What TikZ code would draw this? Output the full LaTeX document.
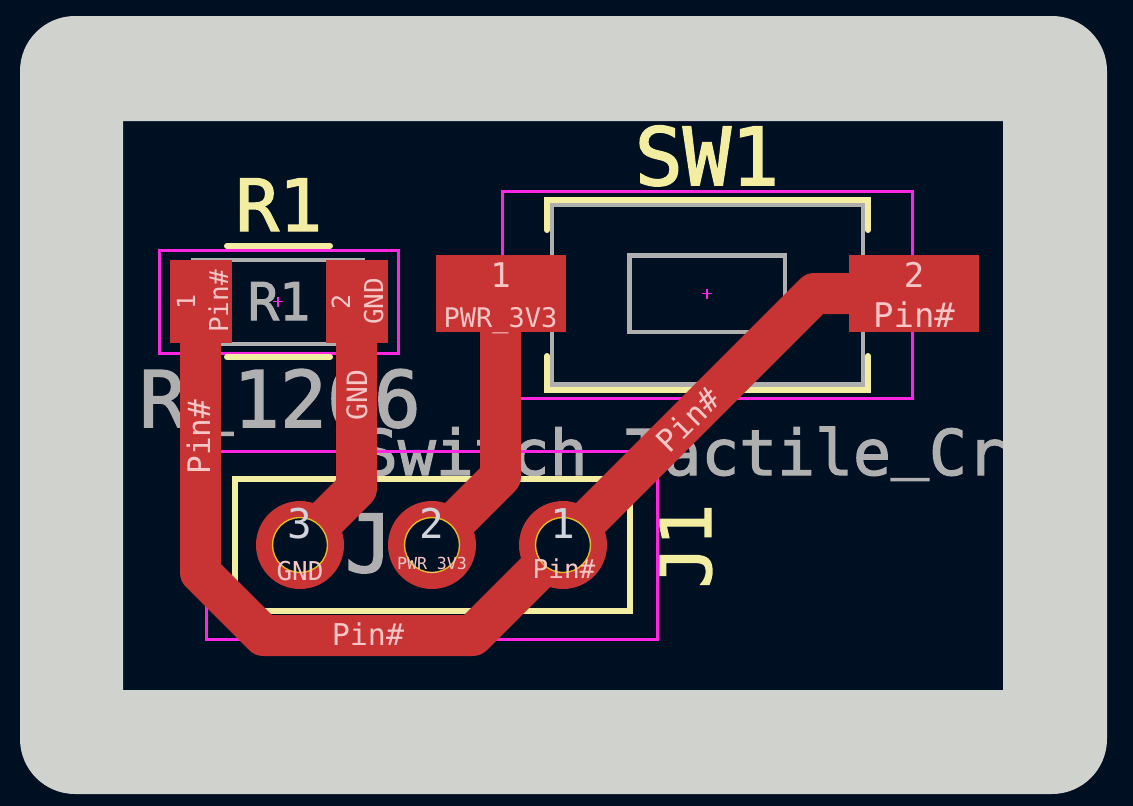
\documentclass[tikz,border=0pt]{standalone}
\usepackage{fontspec}
\newfontfamily\pcbfont{DejaVu Sans Mono}
\newfontfamily\pcbheavy[FakeBold=2]{DejaVu Sans Mono}
\newcommand{\lowbar}[1]{\raisebox{#1}{\_}}
\definecolor{pcbback}{HTML}{001023}
\definecolor{boardedge}{HTML}{D0D2CD}
\definecolor{courtyard}{HTML}{FF26E2}
\definecolor{silk}{HTML}{F2EDA1}
\definecolor{fabgray}{HTML}{AFAFAF}
\definecolor{copper}{HTML}{C83434}
\definecolor{padtext}{HTML}{F6C6C6}
\definecolor{numtext}{HTML}{CFD3DA}
\definecolor{holering}{HTML}{E8B820}
\tikzset{
  crtline/.style={draw=courtyard, line width=3pt},
  silkline/.style={draw=silk, line width=6pt, line cap=round, line join=miter},
  fabline/.style={draw=fabgray, line width=4.5pt},
  track/.style={draw=copper, line width=41pt, line cap=round, line join=round},
  smdpad/.style={fill=copper, inner sep=0pt, outer sep=0pt, minimum width=#1},
  smdpad/.default=62pt,
  thtpad/.style={circle, fill=copper, inner sep=0pt, outer sep=0pt, minimum size=88pt},
  ththole/.style={circle, fill=pcbback, draw=holering, line width=1.4pt, inner sep=0pt, minimum size=55pt},
  crossmark/.style={draw=courtyard, line width=1.2pt},
  txt/.style={inner sep=0pt, outer sep=0pt, anchor=base},
  silktxt/.style={txt, text=silk, font=\pcbheavy\fontsize{#1}{#1}\selectfont},
  fabtxt/.style={txt, text=fabgray, font=\pcbheavy\fontsize{#1}{#1}\selectfont},
  padtxt/.style={txt, text=padtext, font=\pcbfont\fontsize{#1}{#1}\selectfont},
  numtxt/.style={txt, text=numtext, font=\pcbfont\fontsize{#1}{#1}\selectfont},
}
\begin{document}
\begin{tikzpicture}[x=1pt, y=-1pt]
        \useasboundingbox (0, 0) rectangle (1133, 806);
        \fill[pcbback] (0, 0) rectangle (1133, 806);
        % Fab texts
        \node (valR) at (280, 427) [fabtxt=78] {R\lowbar{10pt}1206};
        \node (valSW) at (360, 475) [fabtxt=63, anchor=base west] {Switch\lowbar{9pt}Tactile\lowbar{9pt}Cr};
        \node (refJ) at (393, 572) [fabtxt=80] {J1};
        \node (refR) at (279, 320) [fabtxt=52] {R1};
        % Fab outlines
        \draw[fabline] (193, 260) rectangle (363, 344);
        \draw[fabline] (552, 204.5) rectangle (863, 384.5);
        \draw[fabline] (629.5, 255.5) rectangle (785, 332);
        % Courtyards
        \draw[crtline] (159, 250) rectangle (398, 353);
        \draw[crtline] (502, 191) rectangle (912, 398);
        \draw[crtline] (206, 451) rectangle (657, 639);
        % Centre marks
        \draw[crossmark] (278, 301.5) +(-5, 0) -- +(5, 0) +(0, -5) -- +(0, 5);
        \draw[crossmark] (707, 293.5) +(-5, 0) -- +(5, 0) +(0, -5) -- +(0, 5);
        % Silkscreen
        \draw[silkline] (227, 246) -- (330, 246);
        \draw[silkline] (227, 357) -- (330, 357);
        \draw[silkline] (547, 230) -- (547, 199.5) -- (868, 199.5) -- (868, 230);
        \draw[silkline] (547, 356) -- (547, 390) -- (868, 390) -- (868, 356);
        \draw[silkline, line cap=butt] (235, 479) rectangle (630, 611);
        \node (lblR1) at (279, 231) [silktxt=72] {R1};
        \node (lblSW1) at (707, 185) [silktxt=80] {SW1};
        \node (lblJ1) at (711, 546) [silktxt=70, rotate=90] {J1};
        % Pads
        \node (r1a) at (200.5, 301.5) [smdpad, minimum height=83pt] {};
        \node (r1b) at (356.5, 301.5) [smdpad, minimum height=83pt] {};
        \node (sw1a) at (500.5, 293.5) [smdpad=130pt, minimum height=77pt] {};
        \node (sw1b) at (914, 293.5) [smdpad=130pt, minimum height=77pt] {};
        \node (j3) at (300, 545) [thtpad] {};
        \node (j2) at (432, 545) [thtpad] {};
        \node (j1) at (563, 545) [thtpad] {};
        % Track bends
        \coordinate (gndBend) at (356.5, 488.5);
        \coordinate (pwrBend) at (500.5, 476.5);
        \coordinate (swBend) at (814.5, 293.5);
        \coordinate (botRight) at (472.5, 635.5);
        \coordinate (botLeft) at (263.5, 635.5);
        \coordinate (leftBend) at (200.5, 572.5);
        % Tracks
        \draw[track] (r1b.center) -- (gndBend) -- (j3.center);
        \draw[track] (sw1a.center) -- (pwrBend) -- (j2.center);
        \draw[track] (sw1b.center) -- (swBend) -- (j1.center) -- (botRight) -- (botLeft) -- (leftBend) -- (r1a.center);
        % Holes
        \node (h3) at (j3.center) [ththole] {};
        \node (h2) at (j2.center) [ththole] {};
        \node (h1) at (j1.center) [ththole] {};
        % Pad labels
        \node (n1r) at (195, 301.5) [padtxt=25, rotate=90] {1};
        \node (p1r) at (228, 301.5) [padtxt=26, rotate=90] {Pin\#};
        \node (n2r) at (350, 301.5) [padtxt=25, rotate=90] {2};
        \node (g2r) at (383, 301.5) [padtxt=26, rotate=90] {GND};
        \node (n1s) at (500.5, 287) [padtxt=34] {1};
        \node (p1s) at (500.5, 327) [padtxt=27] {PWR\_3V3};
        \node (n2s) at (914, 287) [padtxt=34] {2};
        \node (p2s) at (914, 327) [padtxt=34] {Pin\#};
        \node (n3j) at (300, 538) [numtxt=41] {3};
        \node (n2j) at (432, 538) [numtxt=41] {2};
        \node (n1j) at (563, 538) [numtxt=41] {1};
        \node (g3j) at (300, 580) [padtxt=26] {GND};
        \node (p2j) at (432, 569) [padtxt=16.6] {PWR\_3V3};
        \node (p1j) at (564, 578) [padtxt=26] {Pin\#};
        % Track labels
        \node (tLeft) at (210, 437) [padtxt=31, rotate=90] {Pin\#};
        \node (tGnd) at (367, 395) [padtxt=28, rotate=90] {GND};
        \node (tBot) at (368, 645) [padtxt=30] {Pin\#};
        \node (tDiag) at (696, 428) [padtxt=31, rotate=45] {Pin\#};
        % Board edge
        \path[fill=boardedge, even odd rule, rounded corners=55pt] (20, 16) rectangle (1107, 794)
             [sharp corners] (123, 121) rectangle (1003, 690);
    \end{tikzpicture}
\end{document}
